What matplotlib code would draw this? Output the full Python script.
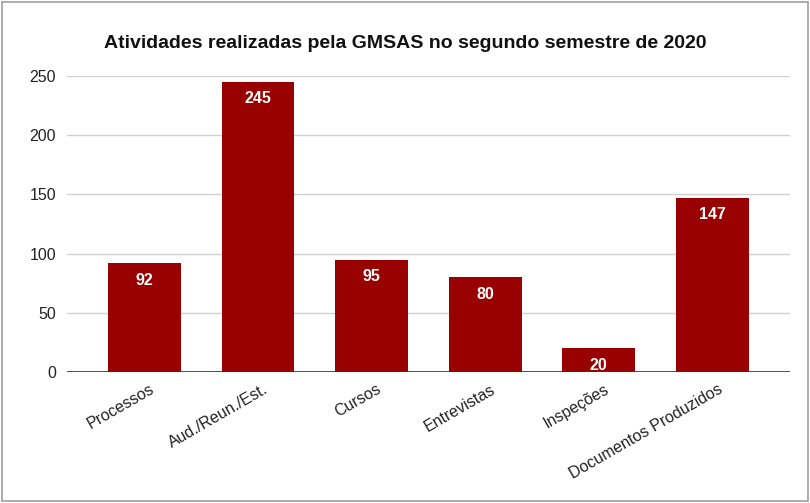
import matplotlib.pyplot as plt
from matplotlib.patches import Rectangle
from matplotlib.transforms import ScaledTranslation

categories = ['Processos', 'Aud./Reun./Est.', 'Cursos', 'Entrevistas',
              'Inspeções', 'Documentos Produzidos']
values = [92, 245, 95, 80, 20, 147]
yticks = [0, 50, 100, 150, 200, 250]

plt.rcParams['font.family'] = ['Liberation Sans', 'DejaVu Sans']

fig = plt.figure(figsize=(8.1, 5.03), dpi=100)
fig.patches.append(Rectangle((0.002, 0.004), 0.996, 0.993, transform=fig.transFigure,
                             fill=False, edgecolor='#9e9e9e', linewidth=1.2))
ax = fig.add_axes([0.0827, 0.2604, 0.8923, 0.5886])

x = list(range(len(categories)))
bars = ax.bar(x, values, width=0.64, color='#990000', zorder=3)
for xi, v in zip(x, values):
    ax.text(xi, v - 8, str(v), ha='center', va='top', color='white',
            fontsize=11.5, fontweight='bold', zorder=4)

ax.set_xlim(-0.68, 5.68)
ax.set_ylim(0, 250)
ax.set_yticks(yticks)
ax.yaxis.grid(True, color='#d0d0d0', linewidth=1, zorder=0)
ax.axhline(0, color='#333333', linewidth=1.2, zorder=5)
for s in ax.spines.values():
    s.set_visible(False)
ax.tick_params(axis='both', length=0, labelsize=11.5, colors='#222222')
ax.tick_params(axis='y', pad=8)
ax.set_xticks(x)
ax.set_xticklabels(categories, rotation=30, ha='right', rotation_mode='anchor')
ax.tick_params(axis='x', pad=7)
# nudge rotated labels a bit to the right, like the original
shift = ScaledTranslation(5 / 100, 0, fig.dpi_scale_trans)
for lbl in ax.get_xticklabels():
    lbl.set_transform(lbl.get_transform() + shift)

fig.text(0.5, 0.914, 'Atividades realizadas pela GMSAS no segundo semestre de 2020',
         ha='center', va='center', fontsize=14, fontweight='bold', color='#111111')

fig.savefig('out.png', dpi=100)
